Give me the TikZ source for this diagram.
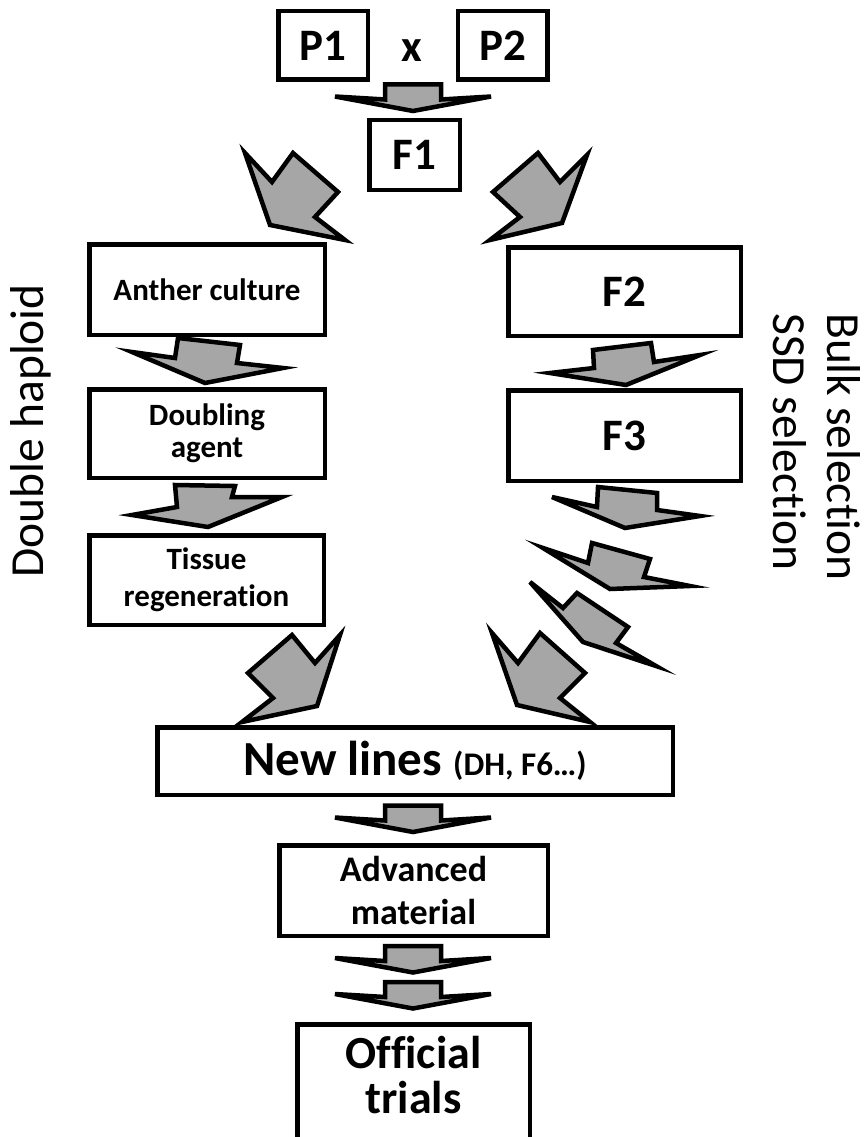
\documentclass[tikz,border=0pt]{standalone}
\usepackage{fontspec}
\setmainfont{Carlito}[Ligatures=NoCommon]
\definecolor{agray}{HTML}{A6A6A6}
\begin{document}
\begin{tikzpicture}[x=1pt,y=-1pt,
  box/.style={draw, line width=4.5pt, fill=white, inner sep=0pt, align=center},
  barrow/.style={draw, line width=4.5pt, fill=agray, line join=miter},
  big/.style={font=\bfseries\fontsize{45}{50}\selectfont},
  mid/.style={font=\bfseries\fontsize{31}{33}\selectfont},
  side/.style={font=\fontsize{47.5}{54}\selectfont, inner sep=0pt}]
\useasboundingbox (0,0) rectangle (866,1137);
\clip (0,0) rectangle (866,1137);

% boxes
\node[box, big, minimum width=89.5pt, minimum height=68.5pt] (p1) at (323,45.5) {P1};
\node[box, big, minimum width=89.5pt, minimum height=68.5pt] (p2) at (502.5,45.5) {P2};
\node[big, inner sep=0pt] (cross) at (412,51) {x};
\node[box, big, minimum width=90.5pt, minimum height=69.5pt] (f1) at (414.5,155) {F1};
\node[box, mid, minimum width=235.5pt, minimum height=90.5pt] (ac) at (207,289.5) {Anther culture};
\node[box, font=\bfseries\fontsize{31}{32}\selectfont, minimum width=235.5pt, minimum height=88.5pt] (da) at (207,433.5) {Doubling\\agent};
\node[box, font=\bfseries\fontsize{31}{37}\selectfont, minimum width=234.5pt, minimum height=89.5pt] (tr) at (206.5,580) {Tissue\\regeneration};
\node[box, big, minimum width=232.5pt, minimum height=88.5pt] (f2) at (624.5,291.5) {F2};
\node[box, big, minimum width=232.5pt, minimum height=90.5pt] (f3) at (624.5,435.5) {F3};
\node[box, minimum width=515.5pt, minimum height=67.5pt] (nl) at (415,761)
  {\bfseries\fontsize{49}{52}\selectfont New lines {\fontsize{33}{35}\selectfont(DH, F6…)}};
\node[box, font=\bfseries\fontsize{36}{43}\selectfont, minimum width=268.5pt, minimum height=90.5pt] (am) at (413.5,890.5) {Advanced\\material};
\node[box, minimum width=232.5pt, minimum height=160pt, anchor=north] (ot) at (413.5,1022.25) {};
\node[font=\bfseries\fontsize{46}{46}\selectfont, inner sep=0pt, anchor=base] (ot1) at (413.5,1068) {Official};
\node[font=\bfseries\fontsize{46}{46}\selectfont, inner sep=0pt, anchor=base] (ot2) at (413.5,1113) {trials};

% side labels
\node[side, rotate=90, anchor=base] (dh) at (43,431) {Double haploid};
\node[side, rotate=-90, anchor=base west] (bulk) at (827,313) {Bulk selection};
\node[side, rotate=-90, anchor=base west] (ssd) at (773,313) {SSD selection};

% straight block arrows
\coordinate (s0) at (413,84.5);
\coordinate (s1) at (413,805.5);
\coordinate (s2) at (413,946);
\coordinate (s3) at (413,982);
\foreach \s in {s0,s1,s2,s3}
  \draw[barrow, shift={(\s)}] (-28,0) -- (28,0) -- (28,15) -- (78,12) -- (0,26.5) -- (-78,12) -- (-28,15) -- cycle;

% diagonal / tilted block arrows
\draw[barrow] (245,153) -- (272,182) -- (293,153) -- (338,192) -- (315,217) -- (345,240) -- (270,225) -- cycle;
\draw[barrow] (587,155) -- (560,182) -- (538,153) -- (493,192) -- (520,217) -- (490,240) -- (562,223) -- cycle;
\draw[barrow] (178,338) -- (240,345) -- (237,363) -- (283,368) -- (205,383) -- (132,352) -- (175,358) -- cycle;
\draw[barrow] (175,485) -- (235,486) -- (232,497) -- (282,497) -- (208,527) -- (132,515) -- (177,507) -- cycle;
\draw[barrow] (593,350) -- (651,343) -- (654,362) -- (700,355) -- (626,385) -- (550,373) -- (594,368) -- cycle;
\draw[barrow] (598,487) -- (657,493) -- (657,510) -- (700,516) -- (625,528) -- (552,497) -- (597,507) -- cycle;
\draw[barrow] (543,548) -- (588,563) -- (592,543) -- (650,559) -- (644,577) -- (690,586) -- (610,589) -- cycle;
\draw[barrow] (530,582) -- (563,608) -- (577,593) -- (628,627) -- (616,643) -- (656,666) -- (583,642) -- cycle;
\draw[barrow] (492,633) -- (518,663) -- (540,633) -- (585,673) -- (560,698) -- (590,722) -- (517,705) -- cycle;
\draw[barrow] (340,635) -- (315,663) -- (292,635) -- (248,673) -- (273,698) -- (242,722) -- (317,706) -- cycle;
\end{tikzpicture}
\end{document}
